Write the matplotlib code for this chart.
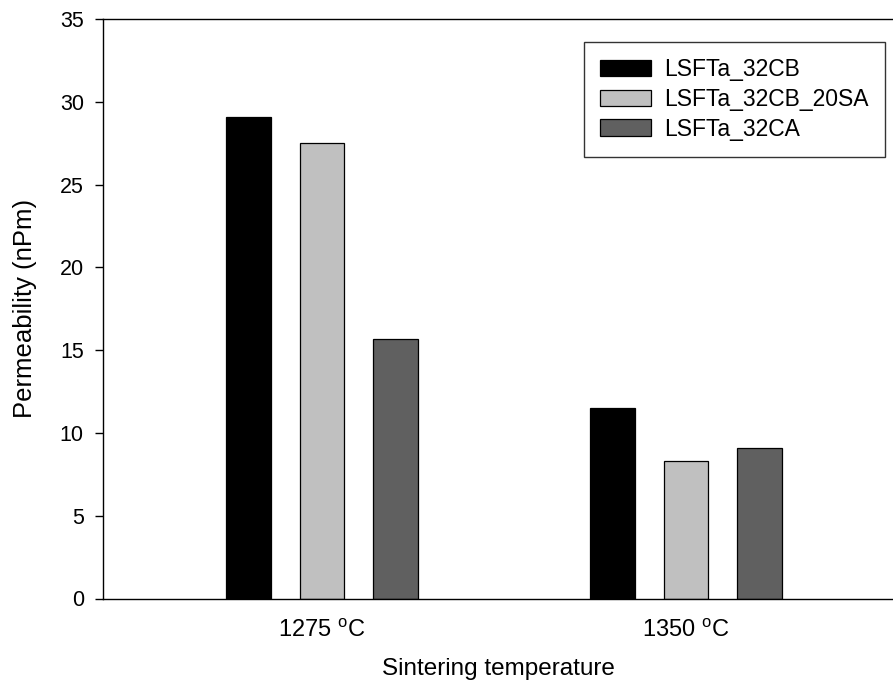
import matplotlib
matplotlib.use("Agg")
import matplotlib.pyplot as plt
import numpy as np

plt.rcParams['font.family'] = ['Liberation Sans', 'DejaVu Sans']
plt.rcParams['mathtext.fontset'] = 'custom'
plt.rcParams['mathtext.rm'] = 'Liberation Sans'

categories = ['1275 $^{\\mathregular{o}}$C', '1350 $^{\\mathregular{o}}$C']
series_names = ['LSFTa_32CB', 'LSFTa_32CB_20SA', 'LSFTa_32CA']
values_32CB = [29.1, 11.5]
values_32CB_20SA = [27.5, 8.3]
values_32CA = [15.7, 9.1]
colors = ['#000000', '#c0c0c0', '#606060']

fig = plt.figure(figsize=(8.93, 6.8), dpi=100)
ax = fig.add_axes([103 / 893, 1 - 598.5 / 680, 790 / 893, (598.5 - 19) / 680])

x = np.arange(len(categories))
width = 0.1225
offset = 0.2012
for i, (name, vals) in enumerate(zip(series_names, [values_32CB, values_32CB_20SA, values_32CA])):
    ax.bar(x + (i - 1) * offset, vals, width, color=colors[i], edgecolor='black',
           linewidth=0.9, label=name)

ax.set_xlim(-0.6016, 1.5687)
ax.set_ylim(0, 35)
ax.set_yticks(np.arange(0, 36, 5))
ax.set_xticks(x)
ax.set_xticklabels(categories, fontsize=17)
ax.tick_params(axis='y', labelsize=15.5, length=5.8, width=1.0, direction='out', pad=8)
ax.tick_params(axis='x', length=0, pad=15)
ax.set_xlabel('Sintering temperature', fontsize=17.5, labelpad=11)
ax.set_ylabel('Permeability (nPm)', fontsize=18.5, labelpad=16)
ax.spines['right'].set_visible(False)
for s in ['left', 'bottom', 'top']:
    ax.spines[s].set_linewidth(1.0)

leg = ax.legend(loc='upper right', bbox_to_anchor=(885 / 893, 1 - 42 / 680),
                bbox_transform=fig.transFigure, fontsize=16.5,
                frameon=True, fancybox=False, edgecolor='black',
                handlelength=2.23, handleheight=0.74, handletextpad=0.6,
                borderpad=0.7, labelspacing=0.3, borderaxespad=0)
leg.get_frame().set_linewidth(1.0)
for p in leg.get_patches():
    p.set_linewidth(0.9)

fig.savefig('out.png', dpi=100)
